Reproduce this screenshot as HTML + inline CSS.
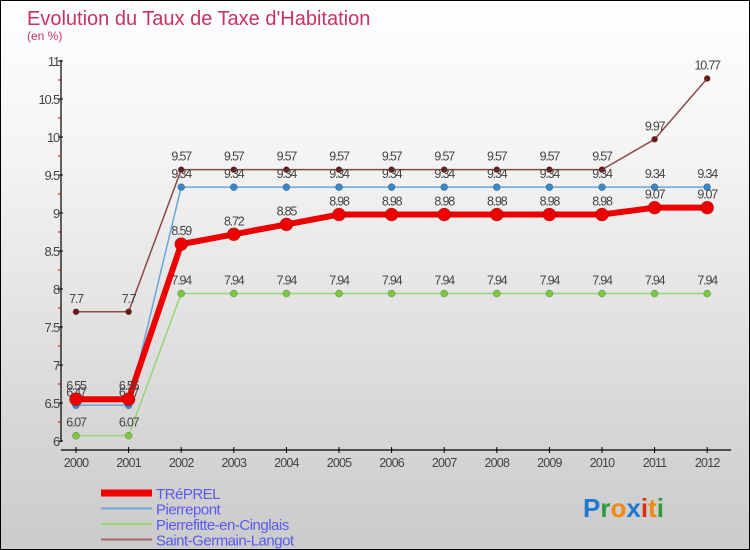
<!DOCTYPE html>
<html><head><meta charset="utf-8"><style>
body{margin:0}
#c{position:relative;width:748px;height:548px;border:1px solid #000;background:linear-gradient(#fff,#f3f3f3 30%,#d8d8d8 75%,#cbcbcb);font-family:"Liberation Sans",sans-serif;overflow:hidden}
</style></head><body>
<div id="c">
<svg id="s" width="748" height="548"></svg>
</div>
<script>
const years=[2000,2001,2002,2003,2004,2005,2006,2007,2008,2009,2010,2011,2012];
const trep=[6.55,6.55,8.59,8.72,8.85,8.98,8.98,8.98,8.98,8.98,8.98,9.07,9.07];
const pier=[6.47,6.47,9.34,9.34,9.34,9.34,9.34,9.34,9.34,9.34,9.34,9.34,9.34];
const pierf=[6.07,6.07,7.94,7.94,7.94,7.94,7.94,7.94,7.94,7.94,7.94,7.94,7.94];
const sgl=[7.7,7.7,9.57,9.57,9.57,9.57,9.57,9.57,9.57,9.57,9.57,9.97,10.77];
const yTicks=[6,6.5,7,7.5,8,8.5,9,9.5,10,10.5,11];
const yTickLabels=["6","6.5","7","7.5","8","8.5","9","9.5","10","10.5","11"];
const NS="http://www.w3.org/2000/svg";
const s=document.getElementById('s');
const X=i=>75+i*52.6, Y=v=>440-(v-6)*76;
function el(t,a,p){const e=document.createElementNS(NS,t);for(const k in a)e.setAttribute(k,a[k]);(p||s).appendChild(e);return e;}
let t=el('text',{x:26,y:24,'font-size':20,fill:'#c8325f'});t.textContent="Evolution du Taux de Taxe d'Habitation";

t=el('text',{x:26,y:39,'font-size':12,fill:'#c8325f'});t.textContent="(en %)";

let a=el('line',{x1:60,y1:59,x2:60,y2:441,stroke:'#000','stroke-width':1.2});

a=el('line',{x1:60,y1:449,x2:730,y2:449,stroke:'#000','stroke-width':1.2});

yTicks.forEach((v,i)=>{el('line',{x1:57,x2:62,y1:Y(v),y2:Y(v),stroke:'#000'});
 if(i<yTicks.length-1)el('line',{x1:57,x2:60,y1:Y(v+0.25),y2:Y(v+0.25),stroke:'#d00'});
 const l=el('text',{x:58,y:Y(v)+5,'font-size':13,'text-anchor':'end',fill:'#444','letter-spacing':-1.2});l.textContent=yTickLabels[i];
 });
years.forEach((y,i)=>{el('line',{x1:X(i),x2:X(i),y1:446,y2:452,stroke:'#000'});
 const l=el('text',{x:X(i),y:466,'font-size':12.5,'text-anchor':'middle',fill:'#444','letter-spacing':-0.8});l.textContent=y;
 });
function series(d,col,w,r,dot,name){
 const g=el('g',{});
 el('polyline',{points:d.map((v,i)=>X(i)+','+Y(v)).join(' '),fill:'none',stroke:col,'stroke-width':w},g);
 d.forEach((v,i)=>{el('circle',{cx:X(i),cy:Y(v),r:r,fill:dot,stroke:'rgba(0,0,0,0.3)','stroke-width':0.6},g);
  const l=el('text',{x:X(i),y:Y(v)-9,'font-size':12.5,'text-anchor':'middle',fill:'#444','letter-spacing':-1.2},g);l.textContent=v;});
}
series(sgl,'#8b4a4a',1.5,3,'#6b1a1a','series-saint-germain-langot');
series(pierf,'#9ad47a',1.5,3.5,'#7cc840','series-pierrefitte-en-cinglais');
series(pier,'#6aa6d6',1.5,3.5,'#3a88c8','series-pierrepont');
series(trep,'#ee0000',6,6.5,'#ee0000','series-trepre');
const leg=[['TRéPREL','#ee0000',7],['Pierrepont','#6aa6d6',2],['Pierrefitte-en-Cinglais','#9ad47a',2],['Saint-Germain-Langot','#a06868',2]];
leg.forEach((l,i)=>{const y=492+i*15.5;const g=el('g',{});
 el('line',{x1:100,x2:151,y1:y,y2:y,stroke:l[1],'stroke-width':l[2]},g);
 const tx=el('text',{x:155,y:y+6,'font-size':15,fill:'#5a5af0','letter-spacing':-0.5},g);tx.textContent=l[0];});
const logo=el('text',{x:582,y:516,'font-size':26,'font-weight':'bold'});

[['P','#1e7ad0'],['r','#2a9a3a'],['o','#f08a10'],['x','#1e7ad0'],['i','#e03010'],['t','#f08a10'],['i','#2a9a3a']].forEach(c=>{const ts=el('tspan',{fill:c[1]},logo);ts.textContent=c[0];});
</script>
</body></html>
